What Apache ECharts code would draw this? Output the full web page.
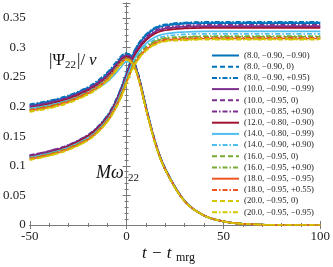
<!DOCTYPE html>
<html><head><meta charset="utf-8">
<script src="https://cdn.jsdelivr.net/npm/echarts@6/dist/echarts.min.js"></script>
<style>html,body{margin:0;padding:0;background:#fff}#c{width:333px;height:267px}</style>
</head><body><div id="c"></div>
<script>
// time axis samples (t - t_mrg)
const T = [-50,-40,-30,-20,-15,-10,-6,-3,0,3,6,10,15,20,30,40,50,60,80,100];

const names = [
 "(8.0, \u22120.90, \u22120.90)",
 "(8.0, \u22120.90, 0)",
 "(8.0, \u22120.90, +0.95)",
 "(10.0, \u22120.90, \u22120.99)",
 "(10.0, \u22120.95, 0)",
 "(10.0, \u22120.85, +0.90)",
 "(12.0, \u22120.80, \u22120.90)",
 "(14.0, \u22120.80, \u22120.99)",
 "(14.0, \u22120.90, +0.90)",
 "(16.0, \u22120.95, 0)",
 "(16.0, \u22120.95, +0.90)",
 "(18.0, \u22120.95, \u22120.95)",
 "(18.0, \u22120.95, +0.55)",
 "(20.0, \u22120.95, 0)",
 "(20.0, \u22120.95, \u22120.95)"
];

// |Psi22|/nu amplitude
const A1  = [0.202,0.208,0.217,0.231,0.241,0.254,0.269,0.281,0.288,0.279,0.254,0.200,0.138,0.095,0.041,0.016,0.006,0.002,0.000,0.000];
const A2  = [0.203,0.209,0.218,0.232,0.242,0.256,0.271,0.283,0.290,0.281,0.255,0.201,0.139,0.095,0.041,0.016,0.006,0.002,0.000,0.000];
const A3  = [0.204,0.210,0.219,0.233,0.244,0.258,0.273,0.285,0.291,0.282,0.256,0.201,0.139,0.096,0.041,0.016,0.006,0.002,0.000,0.000];
const A4  = [0.200,0.206,0.215,0.229,0.239,0.252,0.267,0.279,0.286,0.278,0.253,0.199,0.137,0.094,0.040,0.016,0.006,0.002,0.000,0.000];
const A5  = [0.199,0.205,0.214,0.228,0.238,0.251,0.266,0.278,0.285,0.277,0.252,0.198,0.137,0.094,0.040,0.016,0.006,0.002,0.000,0.000];
const A6  = [0.201,0.207,0.216,0.230,0.241,0.254,0.269,0.281,0.288,0.279,0.254,0.199,0.138,0.094,0.040,0.016,0.006,0.002,0.000,0.000];
const A7  = [0.198,0.204,0.213,0.227,0.237,0.250,0.265,0.277,0.284,0.276,0.251,0.198,0.137,0.094,0.040,0.016,0.006,0.002,0.000,0.000];
const A8  = [0.197,0.202,0.210,0.222,0.231,0.242,0.255,0.266,0.276,0.274,0.250,0.197,0.136,0.093,0.040,0.016,0.006,0.002,0.000,0.000];
const A9  = [0.196,0.202,0.211,0.225,0.235,0.248,0.263,0.275,0.282,0.275,0.250,0.197,0.136,0.093,0.040,0.016,0.006,0.002,0.000,0.000];
const A10 = [0.194,0.200,0.209,0.223,0.233,0.246,0.261,0.273,0.281,0.274,0.250,0.197,0.136,0.093,0.040,0.016,0.006,0.002,0.000,0.000];
const A11 = [0.195,0.201,0.210,0.224,0.234,0.247,0.262,0.274,0.282,0.275,0.250,0.197,0.136,0.093,0.040,0.016,0.006,0.002,0.000,0.000];
const A12 = [0.193,0.199,0.208,0.222,0.232,0.245,0.260,0.272,0.280,0.273,0.249,0.196,0.136,0.093,0.040,0.016,0.006,0.002,0.000,0.000];
const A13 = [0.194,0.200,0.209,0.223,0.233,0.246,0.261,0.273,0.281,0.274,0.249,0.196,0.136,0.093,0.040,0.016,0.006,0.002,0.000,0.000];
const A14 = [0.192,0.198,0.207,0.221,0.231,0.244,0.259,0.271,0.279,0.273,0.249,0.196,0.135,0.093,0.040,0.016,0.006,0.002,0.000,0.000];
const A15 = [0.191,0.197,0.206,0.220,0.230,0.243,0.258,0.270,0.279,0.272,0.248,0.196,0.135,0.093,0.040,0.016,0.006,0.002,0.000,0.000];

// M omega22 frequency
const W1  = [0.116,0.123,0.134,0.151,0.164,0.183,0.206,0.229,0.256,0.285,0.304,0.320,0.332,0.337,0.340,0.341,0.341,0.341,0.341,0.341];
const W2  = [0.116,0.123,0.134,0.151,0.165,0.184,0.207,0.230,0.257,0.286,0.305,0.321,0.333,0.338,0.341,0.342,0.342,0.342,0.342,0.342];
const W3  = [0.117,0.124,0.135,0.152,0.166,0.185,0.208,0.231,0.258,0.287,0.306,0.322,0.334,0.339,0.342,0.343,0.343,0.343,0.343,0.343];
const W4  = [0.117,0.124,0.134,0.151,0.164,0.182,0.205,0.227,0.253,0.281,0.299,0.315,0.327,0.332,0.335,0.336,0.336,0.336,0.336,0.336];
const W5  = [0.118,0.125,0.135,0.151,0.164,0.182,0.204,0.226,0.252,0.279,0.297,0.313,0.325,0.330,0.333,0.334,0.334,0.334,0.334,0.334];
const W6  = [0.118,0.125,0.135,0.152,0.165,0.183,0.206,0.228,0.255,0.283,0.301,0.317,0.329,0.334,0.337,0.338,0.338,0.338,0.338,0.338];
const W7  = [0.115,0.122,0.133,0.150,0.163,0.181,0.203,0.225,0.251,0.278,0.296,0.312,0.324,0.329,0.332,0.333,0.333,0.333,0.333,0.333];
const W8  = [0.114,0.121,0.131,0.147,0.160,0.178,0.200,0.222,0.248,0.274,0.291,0.307,0.318,0.323,0.326,0.327,0.327,0.327,0.327,0.327];
const W9  = [0.114,0.121,0.131,0.147,0.160,0.178,0.199,0.221,0.246,0.271,0.288,0.303,0.314,0.319,0.322,0.323,0.323,0.323,0.323,0.323];
const W10 = [0.112,0.119,0.129,0.145,0.158,0.176,0.197,0.218,0.243,0.267,0.284,0.299,0.310,0.315,0.317,0.318,0.318,0.318,0.318,0.318];
const W11 = [0.113,0.120,0.130,0.146,0.159,0.177,0.198,0.219,0.244,0.268,0.285,0.300,0.311,0.316,0.318,0.319,0.319,0.319,0.319,0.319];
const W12 = [0.111,0.118,0.128,0.144,0.157,0.175,0.196,0.216,0.241,0.265,0.281,0.296,0.307,0.312,0.314,0.315,0.315,0.315,0.315,0.315];
const W13 = [0.112,0.119,0.129,0.145,0.158,0.176,0.197,0.217,0.242,0.266,0.282,0.297,0.308,0.313,0.315,0.316,0.316,0.316,0.316,0.316];
const W14 = [0.110,0.117,0.127,0.143,0.156,0.174,0.195,0.215,0.240,0.264,0.280,0.295,0.306,0.311,0.313,0.314,0.314,0.314,0.314,0.314];
const W15 = [0.110,0.117,0.127,0.143,0.156,0.174,0.194,0.214,0.239,0.263,0.279,0.294,0.305,0.310,0.312,0.313,0.313,0.313,0.313,0.313];

const AMPS = [A1,A2,A3,A4,A5,A6,A7,A8,A9,A10,A11,A12,A13,A14,A15];
const FREQS = [W1,W2,W3,W4,W5,W6,W7,W8,W9,W10,W11,W12,W13,W14,W15];

const C = {blue:'#0072BD', purple:'#7E2F8E', red:'#A2142F', lblue:'#4DBEEE', green:'#77AC30', orange:'#EE5522', yellow:'#D2C600'};
const DASH = [5,3], DOT = [5,2,1.5,2];
const styles = [
 [C.blue,'solid'],[C.blue,DASH],[C.blue,DOT],
 [C.purple,'solid'],[C.purple,DASH],[C.purple,DOT],
 [C.red,'solid'],
 [C.lblue,'solid'],[C.lblue,DOT],
 [C.green,DASH],[C.green,DOT],
 [C.orange,'solid'],[C.orange,DOT],
 [C.yellow,DASH],[C.yellow,DOT]
];

const series = [];
names.forEach((n,i)=>{
  [AMPS[i], FREQS[i]].forEach(arr=>{
    series.push({
      name:n, type:'line', symbol:'none', showSymbol:false, smooth:0.35,
      data: T.map((t,k)=>[t,arr[k]]),
      lineStyle:{color:styles[i][0], type:styles[i][1], width:1.7},
      itemStyle:{color:styles[i][0]},
      emphasis:{disabled:true}, z:2
    });
  });
});

const serif = "'Liberation Serif', 'DejaVu Serif', serif";
const axisCol = '#7a7a7a';
const baseAxis = {
  axisLine:{show:true, lineStyle:{color:axisCol, width:1}},
  axisTick:{show:true, inside:true, length:4, lineStyle:{color:axisCol}},
  minorTick:{show:true, splitNumber:5, length:2, lineStyle:{color:axisCol}},
  splitLine:{show:false}
};
const fmtY = v => { const r = Math.round(v*1000)/1000; return (Math.abs(Math.round(r*20)-r*20)<1e-6) ? String(r) : ''; };

const chart = echarts.init(document.getElementById('c'), null, {renderer:'canvas'});
chart.setOption({
  animation:false,
  grid:{left:27, right:10, top:3, bottom:42},
  xAxis:[
    Object.assign({type:'value', min:-50, max:100, interval:50, position:'bottom',
      axisLabel:{fontFamily:serif, fontSize:13, color:'#222', margin:5, formatter:v=>String(v)}}, baseAxis),
    Object.assign({type:'value', min:-50, max:100, interval:50, position:'top', axisLabel:{show:false}}, baseAxis)
  ],
  yAxis:[
    Object.assign({type:'value', min:0, max:0.375, interval:0.05, position:'left',
      axisLabel:{fontFamily:serif, fontSize:13, color:'#222', margin:4, formatter:fmtY, showMaxLabel:false}}, baseAxis),
    Object.assign({type:'value', min:0, max:0.375, interval:0.05, position:'right', axisLabel:{show:false}}, baseAxis)
  ],
  legend:{
    orient:'vertical', left:211, top:51, padding:0,
    itemStyle:{opacity:0},
    itemWidth:27, itemHeight:8, itemGap:2.2,
    textStyle:{fontFamily:serif, fontSize:8.7, color:'#222', lineHeight:8},
    data:names, selectedMode:false
  },
  series:series,
  graphic:[
    {type:'text', left:49, top:52, style:{text:'|\u03A8', font:"17px 'Liberation Serif'", fill:'#111'}},
    {type:'text', left:65, top:60, style:{text:'22', font:"11px 'Liberation Serif'", fill:'#111'}},
    {type:'text', left:77, top:52, style:{text:'|/', font:"17px 'Liberation Serif'", fill:'#111'}},
    {type:'text', left:89, top:52, style:{text:'\u03BD', font:"italic 17px 'Liberation Serif'", fill:'#111'}},
    {type:'text', left:96, top:164, style:{text:'M\u03C9', font:"italic 18px 'Liberation Serif'", fill:'#111'}},
    {type:'text', left:128, top:173, style:{text:'22', font:"11px 'Liberation Serif'", fill:'#111'}},
    {type:'text', left:142, top:245, style:{text:'t \u2212 t', font:"italic 17px 'Liberation Serif'", fill:'#111'}},
    {type:'text', left:176, top:252, style:{text:'mrg', font:"12px 'Liberation Serif'", fill:'#111'}}
  ]
});
</script></body></html>
